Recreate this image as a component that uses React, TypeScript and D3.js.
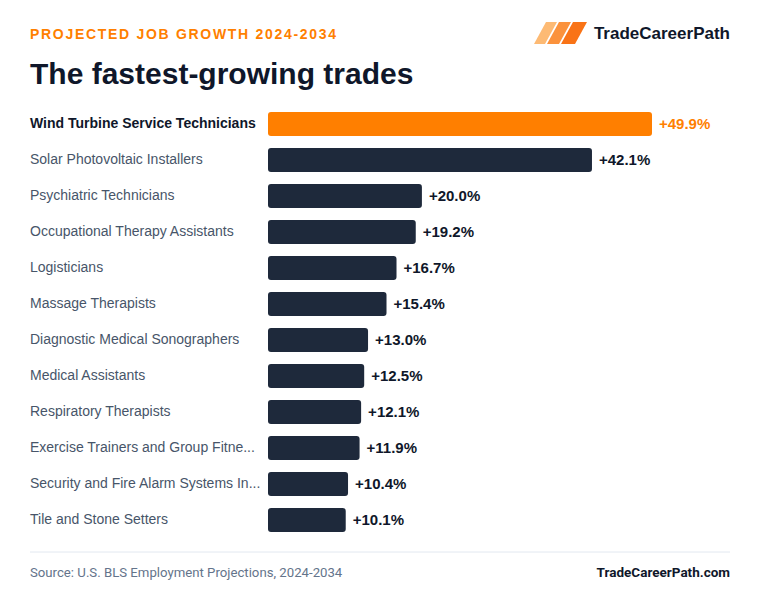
import React from "react";
import * as d3 from "d3";

const W = 760;
const H = 608;

const trades = [
  "Wind Turbine Service Technicians",
  "Solar Photovoltaic Installers",
  "Psychiatric Technicians",
  "Occupational Therapy Assistants",
  "Logisticians",
  "Massage Therapists",
  "Diagnostic Medical Sonographers",
  "Medical Assistants",
  "Respiratory Therapists",
  "Exercise Trainers and Group Fitness Instructors",
  "Security and Fire Alarm Systems Installers",
  "Tile and Stone Setters",
];
const growth = [49.9, 42.1, 20.0, 19.2, 16.7, 15.4, 13.0, 12.5, 12.1, 11.9, 10.4, 10.1];

const ORANGE = "#ff7f00";
const NAVY = "#1e293b";
const FONT = "'Liberation Sans', Arial, sans-serif";
const LABEL_MAX = 232;

// long names get cut to fit the label column (measured, not by char count)
let ctx: CanvasRenderingContext2D | null = null;
const shorten = (s: string) => {
  if (!ctx) ctx = document.createElement("canvas").getContext("2d");
  if (!ctx) return s;
  ctx.font = `14px ${FONT}`;
  if (ctx.measureText(s).width <= LABEL_MAX) return s;
  let cut = s;
  while (cut.length > 1 && ctx.measureText(cut + "...").width > LABEL_MAX) cut = cut.slice(0, -1);
  return cut.trimEnd() + "...";
};

const App: React.FC = () => {
  const x = d3.scaleLinear().domain([0, d3.max(growth) as number]).range([268, 652]);
  const y = d3
    .scaleBand<string>()
    .domain(trades)
    .range([106, 538])
    .paddingInner(0.3333)
    .paddingOuter(0.1667);

  const logo = [
    { fill: "#fdba74", top: [546, 557], bot: [534, 545] },
    { fill: "#fb923c", top: [559, 571], bot: [547, 559] },
    { fill: "#f97316", top: [573, 587], bot: [561, 575] },
  ];

  return (
    <svg width={W} height={H} style={{ position: "absolute", left: 0, top: 0, background: "#fff" }} fontFamily={FONT}>
      <rect width={W} height={H} fill="#fff" />
      <text x={30} y={39} fill={ORANGE} fontSize={14} fontWeight={700} letterSpacing={1.7}>
        PROJECTED JOB GROWTH 2024-2034
      </text>
      <text x={30} y={84} fill="#0f172a" fontSize={30} fontWeight={700}>
        The fastest-growing trades
      </text>

      {logo.map((p, i) => (
        <polygon
          key={i}
          fill={p.fill}
          points={`${p.top[0]},22 ${p.top[1]},22 ${p.bot[1]},44 ${p.bot[0]},44`}
        />
      ))}
      <text x={730} y={39} fill="#0f172a" fontSize={17} fontWeight={700} textAnchor="end">
        TradeCareerPath
      </text>

      {trades.map((t, i) => {
        const yy = y(t) as number;
        const bw = y.bandwidth();
        const first = i === 0;
        return (
          <g key={t}>
            <text
              x={30}
              y={yy + bw / 2}
              dy="0.3em"
              fontSize={14}
              fill={first ? "#0f172a" : "#475569"}
              fontWeight={first ? 700 : 400}
            >
              {first ? t : shorten(t)}
            </text>
            <rect
              x={x(0)}
              y={yy}
              width={x(growth[i]) - x(0)}
              height={bw}
              rx={3}
              fill={first ? ORANGE : NAVY}
            />
            <text
              x={x(growth[i]) + 7}
              y={yy + bw / 2}
              dy="0.35em"
              fontSize={15}
              fontWeight={700}
              fill={first ? ORANGE : "#0f172a"}
            >
              +{growth[i].toFixed(1)}%
            </text>
          </g>
        );
      })}

      <line x1={30} x2={730} y1={552} y2={552} stroke="#e2e8f0" strokeWidth={1} />
      <text x={30} y={577} fontSize={13.2} fill="#64748b" fontFamily="Roboto, sans-serif">
        Source: U.S. BLS Employment Projections, 2024-2034
      </text>
      <text x={730} y={577} fontSize={13.5} fill="#0f172a" fontWeight={700} textAnchor="end" fontFamily="Roboto, sans-serif">
        TradeCareerPath.com
      </text>
    </svg>
  );
};

export default App;
